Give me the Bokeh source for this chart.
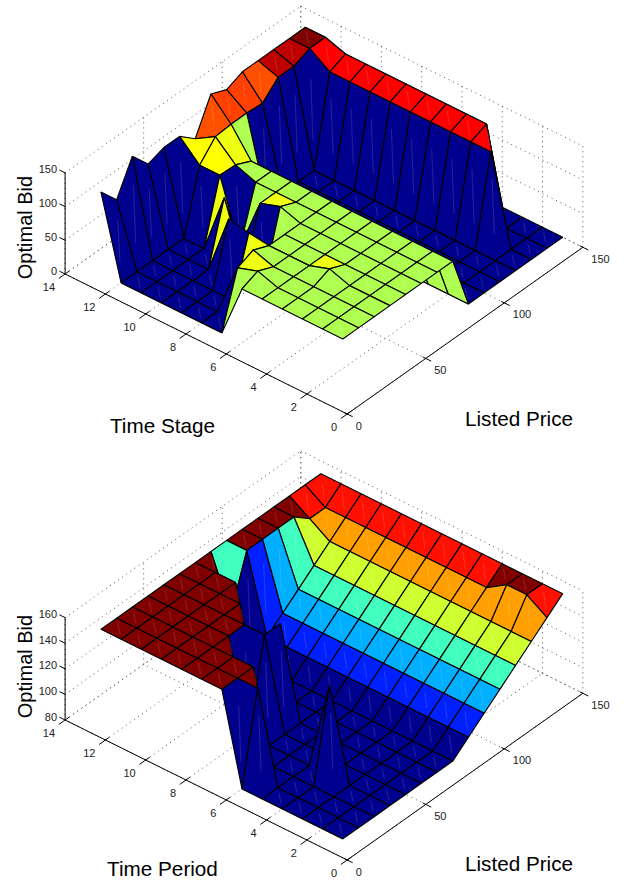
import math
from bokeh.plotting import figure
from bokeh.layouts import column
from bokeh.models import ColumnDataSource, Range1d
from bokeh.core.properties import value
from bokeh.embed import file_html
from bokeh.resources import INLINE

listed_price = [10, 20, 30, 40, 50, 60, 70, 80, 90, 100, 110, 120, 130, 140, 150]
time_steps = [1, 2, 3, 4, 5, 6, 7, 8, 9, 10, 11, 12, 13]

# optimal bid of the upper surface, one list per time stage
upper_t1 = [80, 80, 80, 80, 80, 80, 80, 80, 0, 0, 0, 0, 0, 0, 0]
upper_t2 = [80, 80, 80, 80, 80, 80, 80, 80, 0, 0, 0, 0, 0, 0, 0]
upper_t3 = [80, 80, 80, 80, 80, 80, 80, 80, 0, 0, 0, 0, 130, 0, 0]
upper_t4 = [80, 80, 80, 90, 80, 80, 80, 80, 0, 0, 0, 0, 130, 140, 0]
upper_t5 = [80, 80, 80, 80, 80, 80, 80, 80, 0, 0, 0, 0, 130, 140, 0]
upper_t6 = [80, 90, 80, 80, 80, 80, 80, 80, 0, 0, 0, 0, 130, 140, 0]
upper_t7 = [0, 80, 90, 80, 80, 80, 80, 80, 0, 0, 0, 0, 130, 140, 0]
upper_t8 = [0, 0, 0, 84, 0, 90, 80, 80, 0, 0, 0, 0, 130, 140, 0]
upper_t9 = [0, 0, 0, 90, 0, 80, 80, 80, 0, 0, 0, 0, 130, 140, 0]
upper_t10 = [0, 0, 0, 0, 90, 0, 80, 80, 0, 0, 0, 0, 130, 140, 0]
upper_t11 = [0, 0, 0, 0, 0, 92, 91, 80, 0, 0, 0, 0, 130, 140, 0]
upper_t12 = [0, 0, 0, 0, 0, 92, 118, 120, 120, 118, 140, 140, 150, 150, 0]
upper_t13 = [120, 92, 140, 112, 120, 120, 100, 150, 140, 150, 150, 150, 150, 150, 0]

# optimal bid of the lower surface, one list per time period
lower_t1 = [80, 80, 80, 80, 80, 80, 80, 80, 90, 100, 110, 120, 130, 140, 150]
lower_t2 = [80, 80, 80, 80, 80, 80, 80, 80, 90, 100, 110, 120, 130, 150, 150]
lower_t3 = [80, 80, 80, 80, 80, 80, 80, 80, 90, 100, 110, 120, 130, 150, 150]
lower_t4 = [80, 80, 80, 150, 80, 80, 80, 80, 90, 100, 110, 120, 130, 140, 150]
lower_t5 = [80, 80, 80, 80, 80, 80, 80, 80, 90, 100, 110, 120, 130, 140, 150]
lower_t6 = [80, 150, 80, 80, 80, 80, 80, 80, 90, 100, 110, 120, 130, 140, 150]
lower_t7 = [150, 150, 150, 80, 80, 80, 80, 80, 90, 100, 110, 120, 130, 140, 150]
lower_t8 = [150, 150, 150, 80, 150, 150, 80, 80, 90, 100, 110, 120, 130, 140, 150]
lower_t9 = [150, 150, 150, 150, 150, 80, 80, 80, 90, 100, 110, 120, 130, 140, 150]
lower_t10 = [150, 150, 150, 150, 150, 150, 80, 80, 90, 100, 110, 120, 130, 140, 150]
lower_t11 = [150, 150, 150, 150, 150, 150, 150, 80, 90, 100, 110, 120, 130, 140, 150]
lower_t12 = [150, 150, 150, 150, 150, 150, 150, 110, 150, 150, 150, 150, 140, 140, 150]
lower_t13 = [150, 150, 150, 150, 150, 150, 150, 150, 150, 150, 150, 150, 150, 150, 150]

upper_rows = [upper_t1, upper_t2, upper_t3, upper_t4, upper_t5, upper_t6, upper_t7,
              upper_t8, upper_t9, upper_t10, upper_t11, upper_t12, upper_t13]
lower_rows = [lower_t1, lower_t2, lower_t3, lower_t4, lower_t5, lower_t6, lower_t7,
              lower_t8, lower_t9, lower_t10, lower_t11, lower_t12, lower_t13]

price_ticks = [0, 50, 100, 150]
time_ticks = [0, 2, 4, 6, 8, 10, 12, 14]
upper_bid_ticks = [0, 50, 100, 150]
lower_bid_ticks = [80, 100, 120, 140, 160]

FONT = value("Liberation Sans")


def jet64():
    n = 16
    u = [(i + 1) / n for i in range(n)] + [1.0] * (n - 1) + [(n - i) / n for i in range(n)]
    r = [0.0] * 64
    g = [0.0] * 64
    b = [0.0] * 64
    for i, val in enumerate(u):
        gi = 8 + i
        ri = gi + n
        bi = gi - n
        if 0 <= gi < 64:
            g[gi] = val
        if 0 <= ri < 64:
            r[ri] = val
        if 0 <= bi < 64:
            b[bi] = val
    return ["#%02x%02x%02x" % (round(r[i] * 255), round(g[i] * 255), round(b[i] * 255)) for i in range(64)]


JET = jet64()


def panel(rows, bid_ticks, origin, zscale, top_page, height, ylabel, tlabel, tlabel_y, plabel_y, ylabel_y):
    p = figure(width=626, height=height, output_backend="svg", toolbar_location=None,
               x_range=Range1d(0, 626), y_range=Range1d(height, 0), min_border=0,
               outline_line_color=None)
    p.axis.visible = False
    p.grid.visible = False
    ox, oy = origin
    z0 = bid_ticks[0]
    z1 = bid_ticks[-1]

    def proj(a, t, z):
        return (ox + 1.571 * a - 20.15 * t, oy - 1.1114 * a - 10.0 * t - zscale * (z - z0) - top_page)

    # dotted grid on the floor and the two back walls
    gx, gy = [], []

    def seg(a, b):
        pa, pb = proj(*a), proj(*b)
        gx.append([pa[0], pb[0]])
        gy.append([pa[1], pb[1]])

    amax, tmax = price_ticks[-1], time_ticks[-1]
    for a in price_ticks:
        seg((a, 0, z0), (a, tmax, z0))
        seg((a, tmax, z0), (a, tmax, z1))
    for t in time_ticks:
        seg((0, t, z0), (amax, t, z0))
        seg((amax, t, z0), (amax, t, z1))
    for z in bid_ticks:
        seg((0, tmax, z), (amax, tmax, z))
        seg((amax, tmax, z), (amax, 0, z))
    p.multi_line(gx, gy, line_color="#555555", line_dash="1 4", line_width=1)

    # surface, painted back to front
    zs = [v for r in rows for v in r]
    cmin, cmax = min(zs), max(zs)
    xs, ys, fills, lines, lalpha, falpha = [], [], [], [], [], []
    for j in range(len(time_steps) - 2, -1, -1):
        for i in range(len(listed_price) - 2, -1, -1):
            c = [(i, j), (i + 1, j), (i + 1, j + 1), (i, j + 1)]
            pts = [proj(listed_price[m], time_steps[n], rows[n][m]) for m, n in c]
            idx = min(63, int((rows[j][i] - cmin) / (cmax - cmin) * 64))
            xs.append([q[0] for q in pts])
            ys.append([q[1] for q in pts])
            fills.append(JET[idx])
            lines.append("#000000")
            lalpha.append(1.0)
            falpha.append(1.0)
            f, r = pts[0], pts[2]
            s0 = (f[0] + 0.25 * (r[0] - f[0]), f[1] + 0.25 * (r[1] - f[1]))
            s1 = (f[0] + 0.75 * (r[0] - f[0]), f[1] + 0.75 * (r[1] - f[1]))
            xs.append([s0[0], s1[0]])
            ys.append([s0[1], s1[1]])
            fills.append(JET[idx])
            lines.append("#ffffff")
            lalpha.append(0.12)
            falpha.append(0.0)
    src = ColumnDataSource(dict(xs=xs, ys=ys, fill=fills, line=lines, la=lalpha, fa=falpha))
    p.patches("xs", "ys", source=src, fill_color="fill", fill_alpha="fa", line_color="line",
              line_alpha="la", line_width=1.15)

    # axes
    ax, ay = [], []

    def axseg(a, b):
        pa, pb = proj(*a), proj(*b)
        ax.append([pa[0], pb[0]])
        ay.append([pa[1], pb[1]])

    axseg((0, 0, z0), (amax, 0, z0))
    axseg((0, 0, z0), (0, tmax, z0))
    axseg((0, tmax, z0), (0, tmax, z1))
    for a in price_ticks:
        axseg((a, 0.15, z0), (a, -0.27, z0))
    for t in time_ticks:
        axseg((2.5, t, z0), (-4.0, t, z0))
    for z in bid_ticks:
        axseg((0, tmax, z), (0, tmax + 0.28, z))
    p.multi_line(ax, ay, line_color="#000000", line_width=1)

    tx, ty, tt = [], [], []
    for a in price_ticks:
        q = proj(a, 0, z0)
        tx.append(q[0] + 8.5)
        ty.append(q[1] + 11.5)
        tt.append(str(a))
    p.text(tx, ty, text=tt, text_font=FONT, text_font_size="11px", text_color="#222222",
           text_align="left", text_baseline="middle")
    tx, ty, tt = [], [], []
    for t in time_ticks:
        q = proj(0, t, z0)
        tx.append(q[0] - 10)
        ty.append(q[1] + 12.8)
        tt.append(str(t))
    p.text(tx, ty, text=tt, text_font=FONT, text_font_size="11px", text_color="#222222",
           text_align="right", text_baseline="middle")
    tx, ty, tt = [], [], []
    for z in bid_ticks:
        q = proj(0, tmax, z)
        tx.append(q[0] - 8)
        ty.append(q[1] - 3.5)
        tt.append(str(z))
    p.text(tx, ty, text=tt, text_font=FONT, text_font_size="11px", text_color="#222222",
           text_align="right", text_baseline="middle")

    p.text([24], [ylabel_y - top_page], text=[ylabel], angle=math.pi / 2, text_font=FONT,
           text_font_size="20px", text_align="center", text_baseline="middle", text_color="#000000")
    p.text([162], [tlabel_y - top_page], text=[tlabel], text_font=FONT,
           text_font_size="20.7px", text_align="center", text_baseline="middle", text_color="#000000")
    p.text([518.5], [plabel_y - top_page], text=["Listed Price"], text_font=FONT,
           text_font_size="20.7px", text_align="center", text_baseline="middle", text_color="#000000")
    return p


p1 = panel(upper_rows, upper_bid_ticks, (346.7, 413.5), 0.674, 0, 440,
           "Optimal Bid", "Time Stage", 425, 418, 227)
p2 = panel(lower_rows, lower_bid_ticks, (346.7, 859.5), 1.28, 440, 440,
           "Optimal Bid", "Time Period", 867.5, 863, 666)
layout = column(p1, p2, spacing=0)
open("out.html", "w").write(file_html(layout, INLINE))
